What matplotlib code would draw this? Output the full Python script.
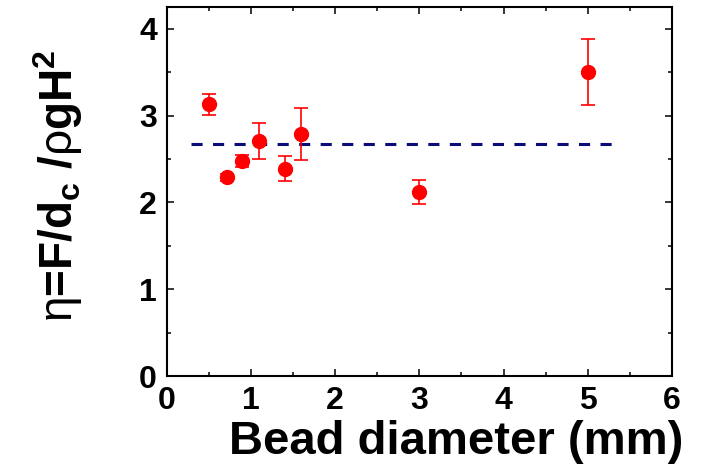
import matplotlib
matplotlib.use("Agg")
import matplotlib.pyplot as plt
from matplotlib.ticker import MultipleLocator

plt.rcParams['font.family'] = ['Liberation Sans', 'DejaVu Sans']
plt.rcParams['font.weight'] = 'bold'
plt.rcParams['mathtext.fontset'] = 'custom'
plt.rcParams['mathtext.rm'] = 'Liberation Sans:bold'
plt.rcParams['mathtext.it'] = 'Liberation Sans:bold'
plt.rcParams['mathtext.bf'] = 'Liberation Sans:bold'
plt.rcParams['mathtext.sf'] = 'Liberation Sans:normal'
plt.rcParams['mathtext.default'] = 'rm'
plt.rcParams['lines.scale_dashes'] = False

# data
diameter = [0.5, 0.72, 0.9, 1.1, 1.4, 1.6, 3.0, 5.0]
eta = [3.13, 2.29, 2.48, 2.71, 2.39, 2.785, 2.12, 3.505]
eta_err = [0.125, 0.04, 0.07, 0.205, 0.145, 0.30, 0.135, 0.38]
mean_x = [0.29, 5.31]
mean_eta = [2.677, 2.677]

fig = plt.figure(figsize=(7.05, 4.76), dpi=100)
ax = fig.add_axes([166.7/705, 1-376/476, (672-166.7)/705, (376-7.3)/476])

ax.plot(mean_x, mean_eta, color='#0c0c78', lw=2.2, dashes=(8, 7.5))
ax.errorbar(diameter, eta, yerr=eta_err, fmt='o', color='#ff0000',
            ms=10, elinewidth=1.2, capsize=5, capthick=1.2, zorder=3)

ax.set_xlim(0, 6)
ax.set_ylim(0, 4.25)
ax.xaxis.set_major_locator(MultipleLocator(1))
ax.xaxis.set_minor_locator(MultipleLocator(0.5))
ax.yaxis.set_major_locator(MultipleLocator(1))
ax.yaxis.set_minor_locator(MultipleLocator(0.5))
ax.tick_params(which='both', direction='in', top=True, right=True, width=1.1,
               labelsize=23)
ax.tick_params(which='major', length=5, pad=7)
ax.tick_params(which='minor', length=3)
for s in ax.spines.values():
    s.set_linewidth(1.5)
for lab in ax.get_xticklabels() + ax.get_yticklabels():
    lab.set_fontweight('bold')

ax.set_xlabel('Bead diameter (mm)', fontsize=34, fontweight='bold')
ax.xaxis.set_label_coords(0.572, -0.118, transform=ax.transAxes)
ax.xaxis.label.set_va('top')
ax.set_ylabel(r'$\mathsf{\eta}$=F/d$_{c}$ /$\mathsf{\rho}$gH$^{2}$',
              fontsize=33, fontweight='bold')
ax.yaxis.set_label_coords(-0.215, 0.515, transform=ax.transAxes)
ax.yaxis.label.set_va('center')

fig.savefig('out.png', dpi=100)
